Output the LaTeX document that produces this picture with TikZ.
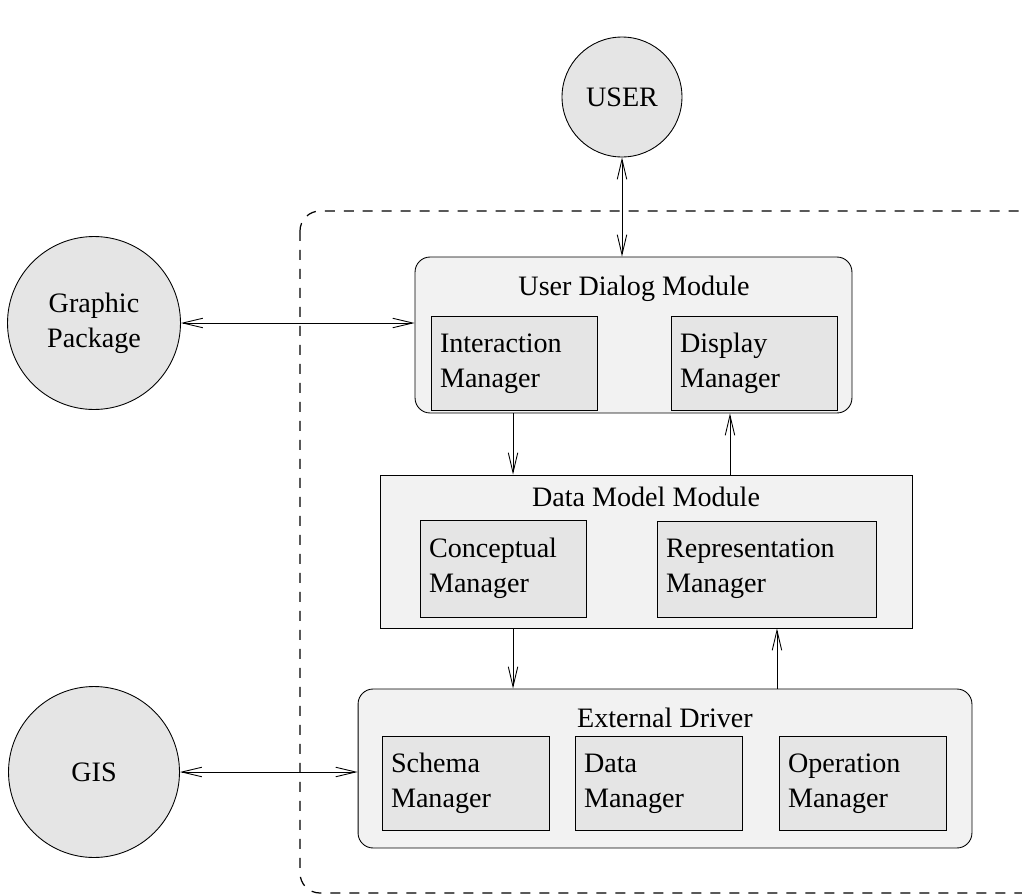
\documentclass[tikz,border=0pt]{standalone}
\usepackage{fontspec}
\setmainfont{Liberation Serif}
\usetikzlibrary{arrows.meta}
\begin{document}
\begin{tikzpicture}[x=0.02cm,y=-0.02cm,line width=0.5pt,
  font=\fontsize{16}{19.8}\selectfont,
  >={Straight Barb[length=0.4cm,width=0.19cm]},
  ext/.style={circle,draw,fill=gray!20,align=center,inner sep=0pt},
  module/.style={draw,fill=gray!10},
  mgr/.style={draw,fill=gray!20,align=left,inner xsep=0.18cm,minimum height=1.88cm,text width=#1}]
\clip (0,0) rectangle (1022,896);
\draw[line width=0.7pt,dash pattern=on 0.2cm off 0.18cm,rounded corners=0.4cm] (300,211) rectangle (1045,893);
\node[ext,minimum size=2.4cm] (user) at (622,97) {USER};
\node[ext,minimum size=3.46cm] (gpkg) at (94,323) {Graphic\\Package};
\node[ext,minimum size=3.42cm] (gis) at (94,772) {GIS};
\node[module,rounded corners=0.3cm,minimum width=8.74cm,minimum height=3.12cm] (udm) at (633.5,335) {};
\node[anchor=base] (udmt) at (634,295) {User Dialog Module};
\node[mgr=2.96cm] (im) at (514,363.5) {Interaction\\Manager};
\node[mgr=2.96cm] (dm) at (754,363.5) {Display\\Manager};
\node[module,minimum width=10.64cm,minimum height=3.06cm] (dmm) at (646,551.5) {};
\node[anchor=base] (dmmt) at (646,506) {Data Model Module};
\node[mgr=2.96cm,minimum height=1.94cm] (cm) at (503,568.5) {Conceptual\\Manager};
\node[mgr=4.02cm,minimum height=1.92cm] (rm) at (766.5,569) {Representation\\Manager};
\node[module,rounded corners=0.3cm,minimum width=12.28cm,minimum height=3.18cm] (ed) at (665,768.5) {};
\node[anchor=base] (edt) at (665,727) {External Driver};
\node[mgr=2.98cm] (sm) at (465.5,783.5) {Schema\\Manager};
\node[mgr=2.98cm] (dam) at (658.5,783.5) {Data\\Manager};
\node[mgr=2.98cm] (om) at (862.5,783.5) {Operation\\Manager};
\draw[<->] (user) -- (user |- udm.north);
\draw[<->] (gpkg) -- (gpkg -| udm.west);
\draw[<->] (gis) -- (gis -| ed.west);
\draw[->] ([xshift=-2.41cm]udm.south) -- ([xshift=-2.41cm]udm.south |- dmm.north);
\draw[<-] ([xshift=1.93cm]udm.south) -- ([xshift=1.93cm]udm.south |- dmm.north);
\draw[->] ([xshift=-2.66cm]dmm.south) -- ([xshift=-2.66cm]dmm.south |- ed.north);
\draw[<-] ([xshift=2.62cm]dmm.south) -- ([xshift=2.62cm]dmm.south |- ed.north);
\end{tikzpicture}
\end{document}
